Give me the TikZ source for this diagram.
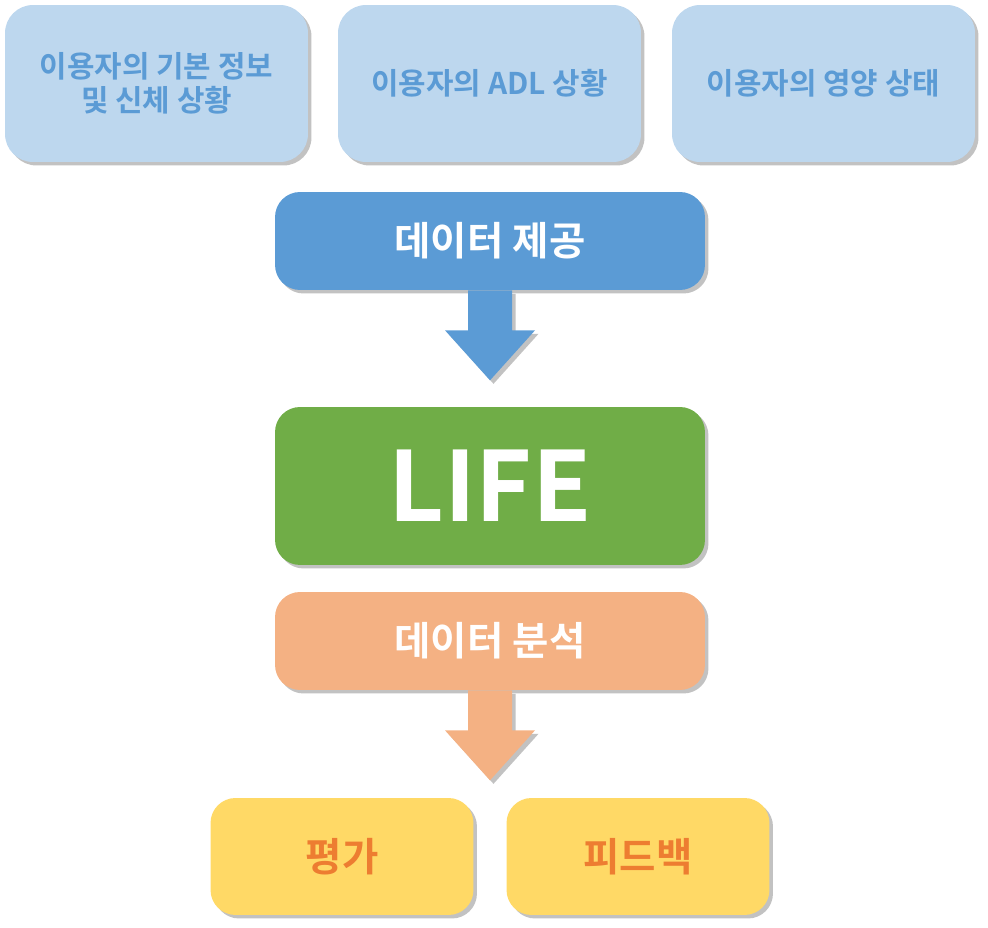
\documentclass[tikz,border=0pt]{standalone}
\usepackage{fontspec}
\setmainfont{Noto Sans CJK KR}[BoldFont={* Bold}]
\usetikzlibrary{shadows,calc}
\definecolor{lblue}{HTML}{BDD7EE}
\definecolor{mblue}{HTML}{5B9BD5}
\definecolor{lgreen}{HTML}{70AD47}
\definecolor{salmon}{HTML}{F4B183}
\definecolor{lyellow}{HTML}{FFD966}
\definecolor{dorange}{HTML}{ED7D31}
\tikzset{
  shad/.style={drop shadow={shadow xshift=0.07cm,shadow yshift=-0.07cm,opacity=0.4,fill=black!60}},
  infobox/.style={shad,fill=lblue,rounded corners=0.56cm,minimum width=6.06cm,minimum height=3.14cm,
    text=mblue,font=\bfseries\fontsize{17}{19.5}\selectfont,align=center},
  flowbox/.style={shad,rounded corners=0.5cm,minimum width=8.6cm,minimum height=1.96cm,
    text=white,font=\bfseries\fontsize{22.5}{26}\selectfont},
  resbox/.style={shad,fill=lyellow,rounded corners=0.5cm,minimum width=5.26cm,minimum height=2.34cm,
    text=dorange,font=\bfseries\fontsize{22.5}{26}\selectfont},
  blockarrow/.style={shad,draw=none}
}
\begin{document}
\begin{tikzpicture}[x=0.02cm,y=-0.02cm]
\useasboundingbox (0,0) rectangle (988,928);
% source data
\node[infobox] (basic) at (156.5,83.5) {이용자의 기본 정보\\및 신체 상황};
\node[infobox] (adl) at (489.5,83.5) {이용자의 ADL 상황};
\node[infobox] (nutri) at (823.5,83.5) {이용자의 영양 상태};
% flow
\node[flowbox,fill=mblue] (provide) at (490,241) {데이터 제공};
\node[flowbox,fill=lgreen,minimum height=3.16cm,font=\bfseries\fontsize{55}{58}\selectfont] (life) at (490,486) {LIFE};
\node[flowbox,fill=salmon] (analyse) at (490,641) {데이터 분석};
% results
\node[resbox] (eval) at (342,856.5) {평가};
\node[resbox] (feedback) at (638,856.5) {피드백};
% block arrows
\fill[blockarrow,fill=mblue] ($(provide.south)+(-22,0)$) -- ++(0,40) -- ++(-23,0) -- ($(provide.south)+(0,90)$)
  -- ($(provide.south)+(45,40)$) -- ++(-23,0) -- ++(0,-40) -- cycle;
\fill[blockarrow,fill=salmon] ($(analyse.south)+(-22,0)$) -- ++(0,40) -- ++(-23,0) -- ($(analyse.south)+(0,90)$)
  -- ($(analyse.south)+(45,40)$) -- ++(-23,0) -- ++(0,-40) -- cycle;
\end{tikzpicture}
\end{document}
